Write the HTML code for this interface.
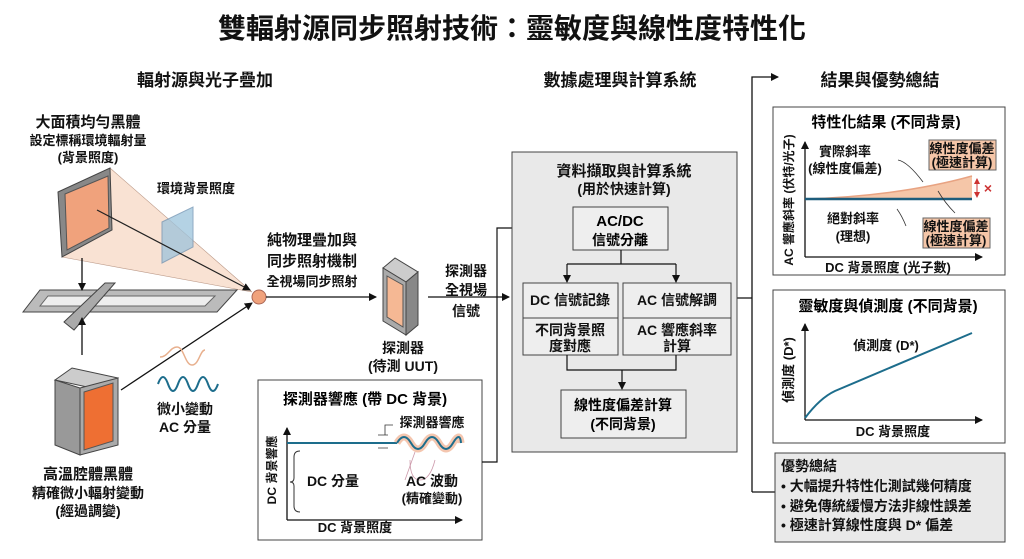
<!DOCTYPE html>
<html><head><meta charset="utf-8"><style>
html,body{margin:0;padding:0;background:#fff;}
svg{display:block;font-family:"Liberation Sans","Noto Sans CJK TC",sans-serif;font-weight:bold;}
</style></head><body>
<svg width="1024" height="559" viewBox="0 0 1024 559" xmlns="http://www.w3.org/2000/svg">
<defs>
<marker id="a" markerWidth="8" markerHeight="8" refX="7" refY="4" orient="auto" markerUnits="userSpaceOnUse"><path d="M0,0L8,4L0,8z" fill="#111"/></marker>
<marker id="r" markerWidth="6" markerHeight="6" refX="5" refY="3" orient="auto-start-reverse" markerUnits="userSpaceOnUse"><path d="M0,0L6,3L0,6z" fill="#c33"/></marker>
</defs>
<g fill="#111" text-anchor="middle" font-weight="bold">
<text x="512" y="38" font-size="28">雙輻射源同步照射技術：靈敏度與線性度特性化</text>
<text x="205" y="86" font-size="17">輻射源與光子疊加</text>
<text x="620" y="86" font-size="17">數據處理與計算系統</text>
<text x="880" y="86" font-size="17">結果與優勢總結</text>
</g>
<path d="M752,492V77H778" fill="none" stroke="#111" stroke-width="1.3" marker-end="url(#a)"/>
<path d="M737,298H752M752,492H775" stroke="#111" stroke-width="1.3"/>

<g text-anchor="middle" fill="#111">
<text x="88" y="127" font-size="15">大面積均勻黑體</text>
<text x="88" y="145" font-size="13">設定標稱環境輻射量</text>
<text x="88" y="162" font-size="13">(背景照度)</text>
<text x="196" y="193" font-size="13">環境背景照度</text>
</g>
<polygon points="110,168 252,292 62,257" fill="#f7d6c0" opacity="0.7"/>
<path d="M110,168L252,292M62,257L252,292" stroke="#b98" stroke-width="0.6"/>
<polygon points="58,192 110,168 112,230 62,257" fill="#888" stroke="#444"/>
<polygon points="65,194 108,176 109,228 67,250" fill="#f0a27c" stroke="#555"/>
<polygon points="162,222 193,207 193,247 162,263" fill="#9cc3dc" opacity="0.75" stroke="#6a8fb0"/>
<line x1="97" y1="210" x2="250" y2="290" stroke="#222" stroke-width="1.2" marker-end="url(#a)"/>
<polygon points="40,290 237,290 217,312 23,312" fill="#bbb" stroke="#444"/>
<polygon points="48,296 215,296 205,306 40,306" fill="#eee" stroke="#666"/>
<polygon points="64,322 105,283 115,283 74,330" fill="#aaa" stroke="#444"/>
<line x1="82" y1="258" x2="82" y2="290" stroke="#111" stroke-width="1.3" marker-end="url(#a)"/>
<line x1="82" y1="355" x2="82" y2="318" stroke="#111" stroke-width="1.3" marker-end="url(#a)"/>
<circle cx="259" cy="297" r="7" fill="#f0a27c" stroke="#a65"/>
<line x1="266" y1="297" x2="376" y2="297" stroke="#111" stroke-width="1.3" marker-end="url(#a)"/>
<g text-anchor="middle" fill="#111" font-weight="bold">
<text x="312" y="245" font-size="15">純物理疊加與</text>
<text x="312" y="266" font-size="15">同步照射機制</text>
<text x="312" y="286" font-size="13">全視場同步照射</text>
</g>
<polygon points="383,268 395,258 418,272 406,282" fill="#ccc" stroke="#444"/>
<polygon points="406,282 418,272 418,325 406,335" fill="#888" stroke="#444"/>
<polygon points="383,268 406,282 406,335 383,321" fill="#aaa" stroke="#444"/>
<polygon points="387,276 403,285 403,327 387,317" fill="#f5b894" stroke="#555"/>
<g text-anchor="middle" fill="#111" font-size="14">
<text x="403" y="353">探測器</text><text x="403" y="371">(待測 UUT)</text>
<text x="466" y="276">探測器</text><text x="466" y="295">全視場</text><text x="466" y="316">信號</text>
</g>
<line x1="428" y1="297" x2="509" y2="297" stroke="#111" stroke-width="1.3" marker-end="url(#a)"/>
<polygon points="55,380 72,368 118,378 101,390" fill="#ccc" stroke="#444"/>
<polygon points="55,380 80,388 80,455 55,445" fill="#999" stroke="#444"/>
<polygon points="80,388 118,378 118,445 80,455" fill="#aaa" stroke="#444"/>
<polygon points="84,392 113,383 113,441 84,450" fill="#ee6f33" stroke="#555"/>
<line x1="121" y1="390" x2="252" y2="303" stroke="#111" stroke-width="1.3" marker-end="url(#a)"/>
<path d="M160,357 C168,357 170,347 177,347 S185,365 192,365 S200,350 205,350" fill="none" stroke="#e8b08e" stroke-width="1.5"/>
<path d="M158,384 q5,-14 10,0 t10,0 t10,0 t10,0 t10,0 t10,0" fill="none" stroke="#1d6d8c" stroke-width="2"/>
<g text-anchor="middle" fill="#111">
<text x="185" y="414" font-size="14">微小變動</text>
<text x="185" y="432" font-size="14">AC 分量</text>
<text x="88" y="479" font-size="15">高溫腔體黑體</text>
<text x="88" y="498" font-size="14">精確微小輻射變動</text>
<text x="88" y="516" font-size="14">(經過調變)</text>
</g>

<rect x="258" y="380" width="224" height="160" fill="#fff" stroke="#444"/>
<path d="M482,462H497V228H571" fill="none" stroke="#111" stroke-width="1.2" marker-end="url(#a)"/>
<text x="365" y="404" text-anchor="middle" font-size="15">探測器響應 (帶 DC 背景)</text>
<line x1="287" y1="520" x2="287" y2="428" stroke="#111" stroke-width="1.3" marker-end="url(#a)"/>
<line x1="287" y1="520" x2="462" y2="520" stroke="#111" stroke-width="1.3" marker-end="url(#a)"/>
<line x1="287" y1="443" x2="397" y2="443" stroke="#1d6d8c" stroke-width="2"/>
<path d="M397,443 q7,-12 14,0 t14,0 t14,0 t14,0 t8,0" fill="none" stroke="#f1b89b" stroke-width="7" opacity="0.8"/>
<path d="M397,443 q7,-12 14,0 t14,0 t14,0 t14,0 t8,0" fill="none" stroke="#1d6d8c" stroke-width="2"/>
<path d="M378,435H388M378,448H388M385,435V425H393" fill="none" stroke="#333" stroke-width="0.8"/>
<path d="M300,451 q-6,0 -6,6 V478 q0,4 -4,4 q4,0 4,4 V506 q0,6 6,6" fill="none" stroke="#333"/>
<path d="M410,460 q0,20 10,20 q10,0 15,-20" fill="none" stroke="#c9a" stroke-width="0.8"/>
<path d="M415,452 L405,480" stroke="#c9a" stroke-width="0.8"/>
<g fill="#111" text-anchor="middle">
<text x="333" y="486" font-size="14">DC 分量</text>
<text x="432" y="427" font-size="13">探測器響應</text>
<text x="432" y="486" font-size="14">AC 波動</text>
<text x="432" y="503" font-size="13">(精確變動)</text>
<text x="355" y="532" font-size="13">DC 背景照度</text>
<text transform="translate(276,470) rotate(-90)" font-size="12">DC 背景響應</text>
</g>

<rect x="512" y="152" width="225" height="300" fill="#e9e9e9" stroke="#444"/>
<g fill="#111" text-anchor="middle">
<text x="624" y="176" font-size="15">資料擷取與計算系統</text>
<text x="624" y="194" font-size="14">(用於快速計算)</text>
</g>
<rect x="573" y="207" width="95" height="43" fill="#eee" stroke="#444"/>
<text x="620" y="226" text-anchor="middle" font-size="15">AC/DC</text>
<text x="620" y="245" text-anchor="middle" font-size="14">信號分離</text>
<path d="M621,250V264M567,264H676" stroke="#111" stroke-width="1.2"/>
<line x1="567" y1="264" x2="567" y2="282" stroke="#111" stroke-width="1.2" marker-end="url(#a)"/>
<line x1="676" y1="264" x2="676" y2="282" stroke="#111" stroke-width="1.2" marker-end="url(#a)"/>
<rect x="523" y="283" width="95" height="72" fill="#eee" stroke="#444"/>
<line x1="523" y1="318" x2="618" y2="318" stroke="#444"/>
<rect x="623" y="283" width="108" height="72" fill="#eee" stroke="#444"/>
<line x1="623" y1="318" x2="731" y2="318" stroke="#444"/>
<g fill="#111" text-anchor="middle" font-size="14">
<text x="570" y="305">DC 信號記錄</text>
<text x="570" y="335">不同背景照</text><text x="570" y="351">度對應</text>
<text x="677" y="305">AC 信號解調</text>
<text x="677" y="335">AC 響應斜率</text><text x="677" y="351">計算</text>
</g>
<path d="M567,355V370H676V355" fill="none" stroke="#111" stroke-width="1.2"/>
<line x1="622" y1="370" x2="622" y2="389" stroke="#111" stroke-width="1.2" marker-end="url(#a)"/>
<rect x="561" y="390" width="125" height="48" fill="#eee" stroke="#444"/>
<text x="623" y="410" text-anchor="middle" font-size="14">線性度偏差計算</text>
<text x="623" y="429" text-anchor="middle" font-size="14">(不同背景)</text>

<rect x="773" y="107" width="232" height="168" fill="#fff" stroke="#444"/>
<text x="886" y="127" text-anchor="middle" font-size="15">特性化結果 (不同背景)</text>
<line x1="805" y1="257" x2="805" y2="142" stroke="#111" stroke-width="1.3" marker-end="url(#a)"/>
<line x1="805" y1="257" x2="982" y2="257" stroke="#111" stroke-width="1.3" marker-end="url(#a)"/>
<path d="M805,199 Q900,196 972,176 V199Z" fill="#f5c6a8"/>
<path d="M805,199 Q900,196 972,176" fill="none" stroke="#e8a382" stroke-width="1.5"/>
<line x1="805" y1="199" x2="972" y2="199" stroke="#1d5d7c" stroke-width="2.5"/>
<line x1="977" y1="179" x2="977" y2="197" stroke="#c33" marker-end="url(#r)" marker-start="url(#r)"/>
<text x="988" y="193" font-size="14" fill="#c33" text-anchor="middle">×</text>
<path d="M898,160 q10,2 25,22M906,226 q-4,-10 -9,-17M955,213 q-10,-10 -17,-22" fill="none" stroke="#333" stroke-width="0.8"/>
<rect x="929" y="140" width="67" height="30" fill="#f5c6a8" stroke="#666"/>
<rect x="923" y="218" width="67" height="30" fill="#f5c6a8" stroke="#666"/>
<g fill="#111" text-anchor="middle" font-size="13">
<text x="845" y="156">實際斜率</text><text x="845" y="173">(線性度偏差)</text>
<text x="853" y="223">絕對斜率</text><text x="853" y="241">(理想)</text>
<text x="962" y="153">線性度偏差</text><text x="962" y="167">(極速計算)</text>
<text x="956" y="231">線性度偏差</text><text x="956" y="245">(極速計算)</text>
<text x="888" y="272">DC 背景照度 (光子數)</text>
<text transform="translate(793,200) rotate(-90)" font-size="12">AC 響應斜率 (伏特/光子)</text>
</g>

<rect x="773" y="290" width="232" height="153" fill="#fff" stroke="#444"/>
<text x="888" y="311" text-anchor="middle" font-size="15">靈敏度與偵測度 (不同背景)</text>
<line x1="805" y1="420" x2="805" y2="324" stroke="#111" stroke-width="1.3" marker-end="url(#a)"/>
<line x1="805" y1="420" x2="982" y2="420" stroke="#111" stroke-width="1.3" marker-end="url(#a)"/>
<path d="M805,418 Q820,398 835,391 L972,333" fill="none" stroke="#1d6d8c" stroke-width="2"/>
<g fill="#111" text-anchor="middle" font-size="13">
<text x="886" y="350">偵測度 (D*)</text>
<text x="893" y="436">DC 背景照度</text>
<text transform="translate(793,370) rotate(-90)">偵測度 (D*)</text>
</g>

<rect x="775" y="453" width="230" height="89" fill="#e9e9e9" stroke="#444"/>
<g fill="#111" font-size="14">
<text x="781" y="471">優勢總結</text>
<text x="781" y="491">• 大幅提升特性化測試幾何精度</text>
<text x="781" y="511">• 避免傳統緩慢方法非線性誤差</text>
<text x="781" y="530">• 極速計算線性度與 D* 偏差</text>
</g>
</svg>
</body></html>
